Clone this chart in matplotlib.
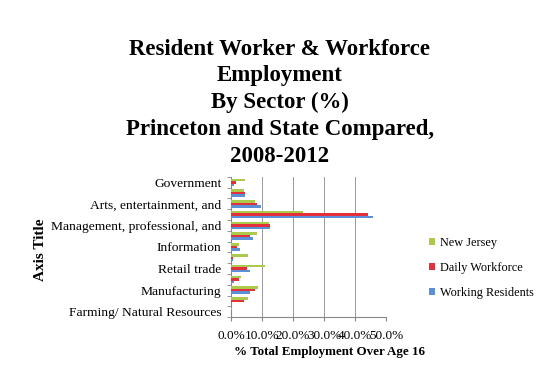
import matplotlib

matplotlib.use("Agg")
import matplotlib.pyplot as plt  # noqa: E402
import numpy as np  # noqa: E402

# categories bottom -> top (every other one gets a label, as in the original)
sectors = [
    "Farming/ Natural Resources",
    "Construction",
    "Manufacturing",
    "Wholesale trade",
    "Retail trade",
    "Transportation",
    "Information",
    "Finance",
    "Management, professional, and",
    "Educational, health",
    "Arts, entertainment, and",
    "Other services",
    "Government",
]
working_residents = [0.2, 0.3, 6.1, 0.8, 6.1, 0.5, 2.9, 7.2, 12.6, 45.8, 9.6, 4.5, 0.8]
daily_workforce = [0.1, 4.0, 7.8, 2.4, 5.0, 0.6, 1.8, 6.1, 12.4, 44.2, 8.5, 4.5, 1.5]
new_jersey = [0.2, 5.6, 8.8, 3.1, 11.0, 5.3, 2.7, 8.3, 12.1, 23.2, 7.8, 4.2, 4.5]

series = [
    ("Working Residents", working_residents, "#5b8fd6"),
    ("Daily Workforce", daily_workforce, "#e3303a"),
    ("New Jersey", new_jersey, "#abc94a"),
]
xticks = [0, 10, 20, 30, 40, 50]

serif = ["Liberation Serif", "DejaVu Serif"]
plt.rcParams["font.family"] = serif

fig = plt.figure(figsize=(5.49, 3.67), dpi=100)
ax = fig.add_axes([0.421, 0.136, 0.282, 0.382])

y = np.arange(len(sectors))
h = 0.23
for i, (label, vals, color) in enumerate(series):
    ax.barh(y + (i - 1) * h, vals, h, color=color, label=label, zorder=3)

ax.set_xlim(0, 50)
ax.set_ylim(-0.5, len(sectors) - 0.5)
ax.set_xticks(xticks, [f"{v:.1f}%" for v in xticks], fontsize=9.5)
ax.set_yticks(y[::2], [sectors[i] for i in y[::2]], fontsize=9.7)
ax.set_yticks(np.arange(len(sectors) + 1) - 0.5, minor=True)
ax.tick_params(axis="y", which="major", length=0, pad=7)
ax.tick_params(axis="y", which="minor", length=3, color="#888888")
ax.tick_params(axis="x", length=3, color="#888888", pad=6)
ax.grid(True, axis="x", color="#999999", linewidth=0.7, zorder=0)
for s in ("top", "right"):
    ax.spines[s].set_visible(False)
for s in ("left", "bottom"):
    ax.spines[s].set_color("#888888")

fig.text(0.6, 0.04, "% Total Employment Over Age 16", fontsize=9.4, fontweight="bold",
         ha="center", va="center")
fig.text(0.073, 0.32, "Axis Title", rotation=90, fontsize=11, fontweight="bold",
         ha="center", va="center")

fig.suptitle("Resident Worker & Workforce\nEmployment\nBy Sector (%)\n"
             "Princeton and State Compared,\n2008-2012",
             x=0.51, y=0.895, fontsize=16.5, fontweight="bold", linespacing=1.36)

handles, labels = ax.get_legend_handles_labels()
fig.legend(handles[::-1], labels[::-1], loc="center left", bbox_to_anchor=(0.762, 0.27),
           frameon=False, fontsize=8.8, handlelength=0.5, handleheight=0.5,
           labelspacing=1.05, handletextpad=0.35)

fig.savefig("out.png", dpi=100)
